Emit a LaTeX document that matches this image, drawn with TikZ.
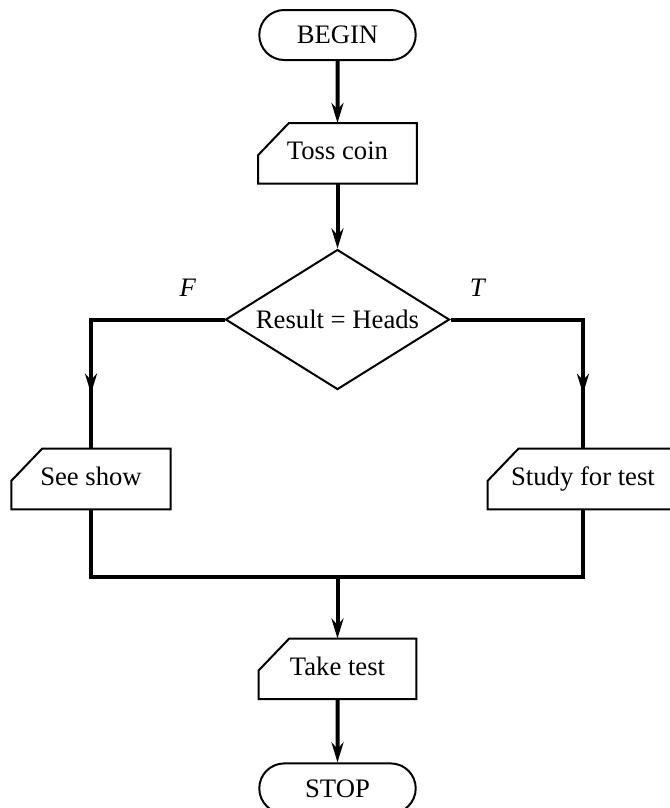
\documentclass[tikz,border=0pt]{standalone}
\usepackage{fontspec}
\setmainfont{Liberation Serif}
\usetikzlibrary{shapes.geometric,shapes.misc,arrows.meta,positioning,decorations.markings}

\begin{document}
\begin{tikzpicture}[
    x=0.75pt, y=-0.75pt,
    every node/.style={font=\fontsize{20}{24}\selectfont},
    term/.style={draw, rounded rectangle, line width=1.5pt, minimum width=124pt, minimum height=37.5pt},
    iobox/.style={rectangle, minimum height=45pt, text height=13.5pt, text depth=4pt},
    boxline/.style={line width=1.5pt, line join=miter},
    decision/.style={draw, diamond, aspect=1.6, line width=1.5pt, inner sep=0pt, minimum width=168pt, minimum height=105pt},
    line/.style={line width=3pt},
    flow/.style={line, -{Stealth[length=15pt,width=9pt]}},
    midarrow/.style={postaction={decorate}, decoration={markings, mark=at position #1 with {\arrow{Stealth[length=15pt,width=9pt]}}}}
]
\useasboundingbox (0,0) rectangle (669,808);

% main column
\node[term] (begin) at (337.5,35) {BEGIN};
\node[iobox, minimum width=118.5pt, below=46.5pt of begin] (toss) {Toss coin};
\node[decision, below=48.75pt of toss] (dec) {Result = Heads};
\coordinate[below=139.5pt of dec] (mrg);
\node[iobox, minimum width=118pt, below=46.5pt of mrg] (take) {Take test};
\node[term, below=47.5pt of take] (stop) {STOP};

% branches
\node[iobox, minimum width=119pt] (see) at (91,479) {See show};
\node[iobox, minimum width=142.5pt] (study) at (583,479) {Study for test};
\node (flab) at (188,288) {\textit{F}};
\node (tlab) at (478,288) {\textit{T}};

% cut corner outlines
\foreach \n in {toss,see,study,take}
  \draw[boxline] ([xshift=23pt]\n.north west) -- (\n.north east) -- (\n.south east)
    -- (\n.south west) -- ([yshift=-24pt]\n.north west) -- cycle;

\draw[flow] (begin) -- (toss);
\draw[flow] (toss) -- (dec);
\draw[line, midarrow=0.79] (dec.west) -| (see.north);
\draw[line, midarrow=0.79] (dec.east) -| (study.north);
\draw[line] (see.south) |- (mrg) -| (study.south);
\draw[flow] (mrg) -- (take);
\draw[flow] (take) -- (stop);
\end{tikzpicture}
\end{document}
